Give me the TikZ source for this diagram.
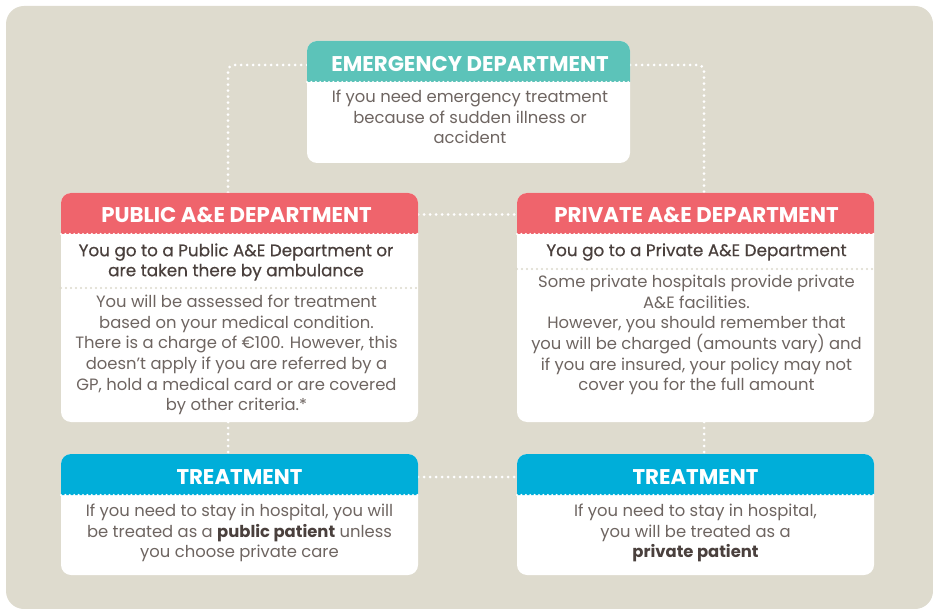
\documentclass[tikz,border=0pt]{standalone}
\usepackage{fontspec}
\setmainfont{Poppins}
\newfontfamily\subfont{Poppins}[FakeBold=0.5]

\definecolor{panelbg}{HTML}{DEDBCE}
\definecolor{hdteal}{HTML}{5CC3B9}
\definecolor{hdcoral}{HTML}{EF646C}
\definecolor{hdblue}{HTML}{00AED9}
\definecolor{bodytext}{HTML}{6E6561}
\definecolor{subtext}{HTML}{4A403D}
\definecolor{sepdot}{HTML}{DCD9CC}

\pgfdeclarelayer{panel}
\pgfdeclarelayer{links}
\pgfsetlayers{panel,links,main}

\begin{document}
\begin{tikzpicture}[x=1pt,y=-1pt,
  card/.style={fill=white, rounded corners=10, inner sep=0pt, outer sep=0pt, anchor=north west},
  link/.style={white, line width=3pt, dash pattern=on 0pt off 6pt, line cap=round, rounded corners=6},
  perf/.style={white, line width=2.4pt, dash pattern=on 0pt off 4.4pt, line cap=round},
  sepline/.style={sepdot, line width=2.2pt, dash pattern=on 0pt off 5pt, line cap=round},
  headtext/.style={text=white, inner sep=0pt, font=\bfseries\fontsize{21.3}{24}\selectfont},
  bodytxt/.style={text=bodytext, align=center, inner sep=0pt, font=\fontsize{16.4}{20.6}\selectfont},
  subtxt/.style={text=subtext, align=center, inner sep=0pt, font=\subfont\fontsize{16.8}{20}\selectfont}]
\useasboundingbox (0,0) rectangle (933,609);

% backdrop panel
\begin{pgfonlayer}{panel}
  \fill[panelbg, rounded corners=18] (6,6) rectangle (933,609);
\end{pgfonlayer}

% cards
\node[card, minimum width=323pt, minimum height=122pt] (em) at (307,41) {};
\node[card, minimum width=357pt, minimum height=229pt] (pub) at (61,193) {};
\node[card, minimum width=357pt, minimum height=229pt] (pri) at (517,193) {};
\node[card, minimum width=357pt, minimum height=121pt] (trl) at (61,454) {};
\node[card, minimum width=357pt, minimum height=121pt] (trr) at (517,454) {};

% coloured header bands (top corners rounded only)
\fill[hdteal] (em.west |- 0,82) [rounded corners=10] -- (em.north west) -- (em.north east) [sharp corners] -- (em.east |- 0,82) -- cycle;
\fill[hdcoral] (pub.west |- 0,234) [rounded corners=10] -- (pub.north west) -- (pub.north east) [sharp corners] -- (pub.east |- 0,234) -- cycle;
\fill[hdcoral] (pri.west |- 0,234) [rounded corners=10] -- (pri.north west) -- (pri.north east) [sharp corners] -- (pri.east |- 0,234) -- cycle;
\fill[hdblue] (trl.west |- 0,495) [rounded corners=10] -- (trl.north west) -- (trl.north east) [sharp corners] -- (trl.east |- 0,495) -- cycle;
\fill[hdblue] (trr.west |- 0,495) [rounded corners=10] -- (trr.north west) -- (trr.north east) [sharp corners] -- (trr.east |- 0,495) -- cycle;

% perforated edge under each header
\draw[perf] (em.west |- 0,82) -- (em.east |- 0,82);
\draw[perf] (pub.west |- 0,234) -- (pub.east |- 0,234);
\draw[perf] (pri.west |- 0,234) -- (pri.east |- 0,234);
\draw[perf] (trl.west |- 0,495) -- (trl.east |- 0,495);
\draw[perf] (trr.west |- 0,495) -- (trr.east |- 0,495);

% dotted separators inside the A&E cards
\draw[sepline] (pub.west |- 0,288) -- (pub.east |- 0,288);
\draw[sepline] (pri.west |- 0,269) -- (pri.east |- 0,269);

% header titles
\node[headtext] (emh) at (470,64) {EMERGENCY DEPARTMENT};
\node[headtext] (pubh) at (236.5,214.5) {PUBLIC A\&E DEPARTMENT};
\node[headtext] (prih) at (696.5,214.5) {PRIVATE A\&E DEPARTMENT};
\node[headtext] (trlh) at (239.5,477) {TREATMENT};
\node[headtext] (trrh) at (695.5,477) {TREATMENT};

% card texts
\node[bodytxt] (emb) at (470,117) {If you need emergency treatment\\because of sudden illness or\\accident};
\node[subtxt] (pubs) at (236,262) {You go to a Public A\&E Department or\\are taken there by ambulance};
\node[bodytxt] (pubb) at (236.5,355) {You will be assessed for treatment\\based on your medical condition.\\There is a charge of €100. However, this\\doesn’t apply if you are referred by a\\GP, hold a medical card or are covered\\by other criteria.*};
\node[subtxt] (pris) at (696.5,252) {You go to a Private A\&E Department};
\node[bodytxt] (prib) at (696.5,335) {Some private hospitals provide private\\A\&E facilities.\\However, you should remember that\\you will be charged (amounts vary) and\\if you are insured, your policy may not\\cover you for the full amount};
\node[bodytxt] (trlb) at (239.5,533) {If you need to stay in hospital, you will\\be treated as a \textcolor{subtext}{\bfseries public patient} unless\\you choose private care};
\node[bodytxt] (trrb) at (695.5,533) {If you need to stay in hospital,\\you will be treated as a\\\textcolor{subtext}{\bfseries private patient}};

% dotted connectors
\coordinate (lx) at (228,0);
\coordinate (rx) at (704,0);
\begin{pgfonlayer}{links}
  \draw[link] ([yshift=-1pt]em.west |- emh) -| (lx |- pub.north);
  \draw[link] ([yshift=-1pt]em.east |- emh) -| (rx |- pri.north);
  \draw[link] (pub.east |- pubh) -- (pri.west |- prih);
  \draw[link] (trl.east |- trlh) -- (trr.west |- trrh);
  \draw[link] (lx |- pub.south) -- (lx |- trl.north);
  \draw[link] (rx |- pri.south) -- (rx |- trr.north);
\end{pgfonlayer}
\end{tikzpicture}
\end{document}
